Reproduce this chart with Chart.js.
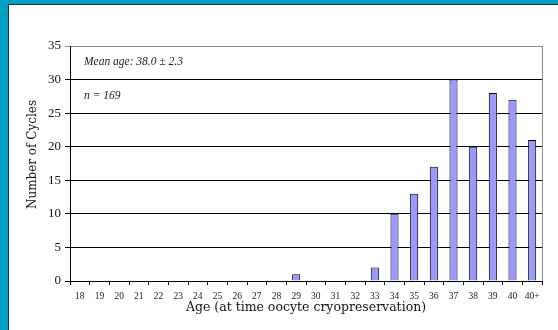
<!DOCTYPE html>
<html>
<head>
<meta charset="utf-8">
<script src="https://cdn.jsdelivr.net/npm/chart.js@4/dist/chart.umd.min.js"></script>
<style>
  html,body{margin:0;padding:0;background:#00a0c2;width:558px;height:330px;overflow:hidden;}
  #panel{position:absolute;left:8px;top:4px;width:560px;height:340px;background:#fff;border-left:1px solid #0b3440;border-top:1px solid #0b3440;}
  #wrap{position:absolute;left:0;top:0;width:558px;height:330px;}
</style>
</head>
<body>
<div id="panel"></div>
<div id="wrap"><canvas id="c"></canvas></div>
<script>
// ages on the x axis and number of cycles per age
const ages=['18','19','20','21','22','23','24','25','26','27','28','29','30','31','32','33','34','35','36','37','38','39','40','40+'];
const cycles=[0,0,0,0,0,0,0,0,0,0,0,1,0,0,0,2,10,13,17,30,20,28,27,21];
const yTicks=[0,5,10,15,20,25,30,35];
const notes=['Mean age: 38.0 \u00b1 2.3','n = 169'];
const yTitle='Number of Cycles';

const SERIF='"Liberation Serif","DejaVu Serif",serif';
const WIDE='"DejaVu Serif","Liberation Serif",serif';

// small plugin: plot frame on the right, the y title (sits a bit above centre) and the two italic notes
const extras={
  id:'extras',
  afterDraw(ch){
    const a=ch.chartArea,ctx=ch.ctx;
    ctx.save();
    ctx.strokeStyle='#8a8a8a';ctx.lineWidth=1;
    ctx.beginPath();ctx.moveTo(a.right+0.5,a.top);ctx.lineTo(a.right+0.5,a.bottom);ctx.stroke();
    ctx.fillStyle='#222';ctx.font='italic 11.5px '+SERIF;ctx.textBaseline='middle';
    ctx.fillText(notes[0],a.left+14,a.top+16);
    ctx.fillText(notes[1],a.left+14,a.top+50);
    ctx.translate(a.left-37,(a.top+a.bottom)/2-9);ctx.rotate(-Math.PI/2);
    ctx.fillStyle='#111';ctx.font='12px '+WIDE;ctx.textAlign='center';
    ctx.fillText(yTitle,0,0);
    ctx.restore();
  }
};

new Chart(document.getElementById('c'),{
  type:'bar',
  data:{labels:ages,datasets:[{
    data:cycles,backgroundColor:'#9999ff',borderColor:'#000',borderWidth:1,
    categoryPercentage:1,barPercentage:0.41
  }]},
  options:{
    responsive:true,maintainAspectRatio:false,animation:false,
    layout:{padding:{top:46,right:16,left:0,bottom:0}},
    plugins:{legend:{display:false},tooltip:{enabled:false}},
    scales:{
      x:{
        grid:{offset:true,drawOnChartArea:false,drawTicks:true,tickLength:4,color:'#000',lineWidth:1},
        border:{color:'#000',width:1},
        ticks:{color:'#222',font:{family:SERIF,size:9.5},padding:6,maxRotation:0,autoSkip:false},
        title:{display:true,text:'Age (at time oocyte cryopreservation)',color:'#111',font:{family:WIDE,size:12.5},padding:{top:4,bottom:15}},
        afterFit(s){s.height=49;}
      },
      y:{
        min:0,max:35,
        afterBuildTicks(s){s.ticks=yTicks.map(v=>({value:v}));},
        grid:{color:c=>c.tick&&c.tick.value===35?'#8a8a8a':'#000',lineWidth:1,tickLength:5},
        border:{color:'#000',width:1},
        ticks:{color:'#111',font:{family:SERIF,size:13},padding:4},
        afterFit(s){s.width=70;}
      }
    }
  },
  plugins:[extras]
});
</script>
</body>
</html>
